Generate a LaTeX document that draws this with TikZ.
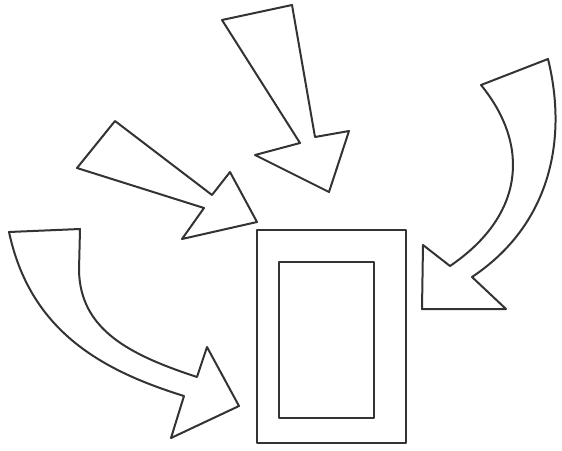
\documentclass[tikz,border=0pt]{standalone}
\usetikzlibrary{calc}

\begin{document}
\begin{tikzpicture}[x=1pt,y=-1pt,
    sketch/.style={draw=black!80, line width=2pt, line join=round}]
    \useasboundingbox (0,0) rectangle (562,450);

    % Define the corners of the frame
    \coordinate (F1) at (257,230);
    \coordinate (F2) at (406,443);
    \coordinate (P1) at (279,262);
    \coordinate (P2) at (374,418);

    % Draw the frame and the inner panel
    \draw[sketch] (F1) rectangle (F2);
    \draw[sketch] (P1) rectangle (P2);

    % Straight arrow from the top
    \draw[sketch] (222,20) -- (292,5) -- (315,137) -- (349,131) -- (329,192)
        -- (255,155) -- (300,143) -- cycle;

    % Straight arrow from the upper left
    \draw[sketch] (115,121) -- (212,195) -- (230,172) -- (257,222) -- (182,239)
        -- (204,208) -- (77,168) -- cycle;

    % Curved arrow from the right
    \draw[sketch] (548,59) -- (481,85)
        .. controls (530,145) and (525,215) .. (450,266)
        -- (423,245) -- (422,309) -- (506,309) -- (472,277)
        .. controls (550,225) and (568,140) .. (548,59) -- cycle;

    % Curved arrow from the left
    \draw[sketch] (9,232) -- (80,229) -- (79,270)
        .. controls (80,330) and (130,355) .. (197,377)
        -- (207,347) -- (239,406) -- (171,438) -- (184,396)
        .. controls (100,370) and (30,330) .. (9,232) -- cycle;

\end{tikzpicture}
\end{document}
